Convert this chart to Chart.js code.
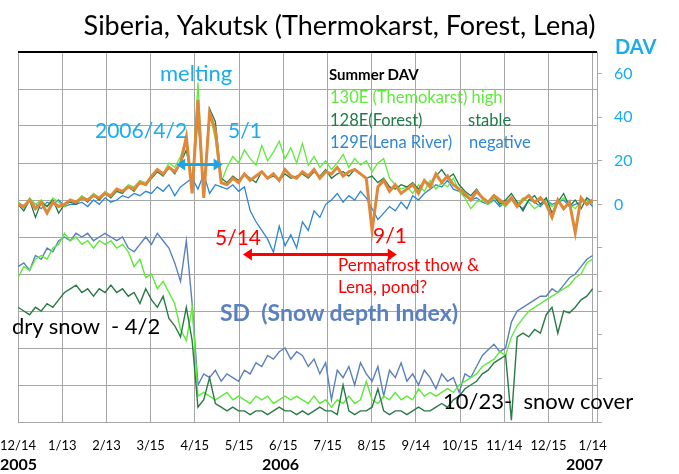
<!DOCTYPE html>
<html><head><meta charset="utf-8">
<script src="https://cdn.jsdelivr.net/npm/chart.js@4.4.1/dist/chart.umd.min.js"></script>
<style>
html,body{margin:0;padding:0;background:#fff;}
#wrap{position:relative;width:679px;height:474px;overflow:hidden;font-family:Lato,"Open Sans",sans-serif;}
canvas{position:absolute;left:0;top:0;}
.t{position:absolute;white-space:nowrap;line-height:1;}
</style></head><body>
<div id="wrap">
<canvas id="c" width="679" height="474"></canvas>
<div class="t" style="left:615px;top:36px;font-size:20px;font-weight:bold;color:#1AACEB;">DAV</div>
<div class="t" style="left:160px;top:62px;font-size:22px;color:#1AACEB;">melting</div>
<div class="t" style="left:95px;top:119px;font-size:21px;color:#1AACEB;">2006/4/2</div>
<div class="t" style="left:228px;top:119px;font-size:21px;color:#1AACEB;">5/1</div>
<div class="t" style="left:329px;top:67px;font-size:15px;font-weight:bold;color:#000;">Summer DAV</div>
<div class="t" style="left:330px;top:89px;font-size:16.5px;color:#5EEB3A;">130E (Themokarst) high</div>
<div class="t" style="left:330px;top:112px;font-size:16.5px;color:#1E7A46;">128E(Forest)</div>
<div class="t" style="left:468px;top:112px;font-size:16.5px;color:#1E7A46;">stable</div>
<div class="t" style="left:330px;top:134px;font-size:16.5px;color:#2E86D6;">129E(Lena River)</div>
<div class="t" style="left:469px;top:134px;font-size:16.5px;color:#2E86D6;">negative</div>
<div class="t" style="left:215px;top:226px;font-size:21px;color:#FF0000;">5/14</div>
<div class="t" style="left:373px;top:224px;font-size:21px;color:#FF0000;">9/1</div>
<div class="t" style="left:338px;top:256px;font-size:17px;color:#FF0000;">Permafrost thow &amp;</div>
<div class="t" style="left:338px;top:278px;font-size:17px;color:#FF0000;">Lena, pond?</div>
<div class="t" style="left:220px;top:301px;font-size:23px;font-weight:bold;color:#5B80C0;">SD&nbsp; (Snow depth Index)</div>
<div class="t" style="left:12px;top:315px;font-size:22px;color:#000;">dry snow&nbsp; - 4/2</div>
<div class="t" style="left:443px;top:390px;font-size:22px;color:#000;">10/23-&nbsp; snow cover</div>
<div class="t" style="left:0px;top:456px;font-size:16px;font-weight:bold;color:#000;">2005</div>
<div class="t" style="left:262px;top:456px;font-size:16px;font-weight:bold;color:#000;">2006</div>
<div class="t" style="left:566px;top:456px;font-size:16px;font-weight:bold;color:#000;">2007</div>
</div>
<script>
// day offsets from 2005-12-14
const days = [0,4,8,12,16,20,24,28,32,36,40,44,48,52,56,60,64,68,72,76,80,84,88,92,96,100,104,108,112,116,120,124,128,132,136,140,144,148,152,156,160,164,168,172,176,180,184,188,192,196,200,204,208,212,216,220,224,228,232,236,240,244,248,252,256,260,264,268,272,276,280,284,288,292,296,300,304,308,312,316,320,324,328,332,336,340,344,348,352,356,360,364,368,372,376,380,384,388,392,396];
const tickLabels = ['12/14','1/13','2/13','3/15','4/15','5/15','6/15','7/15','8/15','9/14','10/15','11/14','12/15','1/14'];
const davTicks = [-100,-80,-60,-40,-20,0,20,40,60];

// DAV (right axis)
const dav130E = [1,-2,3,0,2,-1,3,1,-1,2, 1,4,2,5,3,6,4,7,6,9,8,11,10, 13,16,14,19,17,22, 30,8,56,4,42,30,10, 17,22,19,25,21,18,27,20,24,29,21,26,19, 28,18,22,17,20,16,19,23,17,21,18,20, 15,19,21,12,9,7, 8,5,9,6,11,7,10,8,12,6,3,-2,1, 2,0,3,1,-1,2,0,3,1,-2,0,2,-1,1,3,0,-2,1,2,0];
const dav128E = [0,-3,2,-6,1,-1,2,-4,0,1, 0,3,1,4,2,5,3,6,5,8,6,10,9, 12,15,13,17,14,19, 25,10,40,6,44,38,12, 10,13,11,14,12,10,15,12,13,11,14,12,13, 14,12,15,13,16,12,14,15,13,16,14,12, 13,10,12,8,7,9, 8,10,7,11,9,13,16,12,14,9,6,4,7, 3,1,4,0,2,5,1,-3,2,4,0,3,-4,1,5,-1,2,-2,3,1];
const dav129E = [1,-1,2,0,-2,1,0,2,-1,0, 0,1,-1,2,0,3,1,2,4,3,5,4,6, 5,8,6,9,4,8, 10,12,7,14,5,9,8, 7,9,6,8, -3, -8,-12,-16,-22,-10,-19,-14, -20,-8,-12,-3,-6,0, 2,5,1,4,2,6,3, -2,-7,-4,-1, -3,1,-2,4,2,5, 7,9,8,11,7,6,4,2,3, 1,0,2,-1,1,3,0,-2,2,1,-1,2,0,1,2,-1,0,1,2,-1];
const davMean = [0,-1,2,-2,1,-4,1,-1,0,2, 1,3,2,4,3,5,4,7,6,8,7,10,9, 13,16,14,17,15,19, 31,5,48,3,42,34,10, 9,12,10,14,11,13,15,12,14,11,16,13,12, 15,13,16,12,15,14,17,13,15,16,14,12, -12,8,11,6,9,5, 7,9,5,11,8,14,10,13,9,7,5,2,6, 3,1,4,2,0,3,-1,2,4,1,3,0,-6,2,-2,1,-13,3,0,2];

// SD snow depth index (left axis, unlabeled)
const sd129E = [4.2,4.3,4.1,4.5,4.4,4.7,4.6,4.9,5.0,4.9,5.1,5.0,5.1,4.9,5.0,5.1,5.0,4.9,5.0, 4.7,4.6,4.8,5.0,4.8,5.1,4.9,4.7,4.3,3.8,4.9,3.2,1.0, 1.3,1.2,1.4,1.1,1.3,1.2,1.1,1.4,1.3,1.6,1.5,1.8,1.7, 1.9,2.0,1.7,1.9, 1.8,1.5,1.7,1.3,1.6,0.6,1.4,1.2,1.5,1.0,1.6,1.3,1.1,1.5,0.7,1.4,1.2,1.6,1.1,1.3,1.0,1.4,1.2,0.9,1.3,1.1,1.2,0.8,1.3,1.2, 1.5,1.8,1.95,2.1,1.9,2.0, 2.7, 3.0,3.1,3.2,3.3,3.4, 3.4,3.6,3.5,3.7, 3.9,4.0,4.2,4.4,4.5];
const sd130E = [3.9,4.2,4.1,4.4,4.5,4.4,4.7,4.8,5.1, 4.9,5.0,4.8,4.9,4.7,4.9,4.8,4.9,4.7,4.8, 4.6,4.2,4.4,3.9, 4.0,3.6,3.8,3.5, 3.2,2.5,2.2,3.1,0.7, 0.8,0.7,0.6,0.7,0.8,0.6,0.7,0.6,0.5,0.7,0.6,0.7,0.5,0.6,0.7,0.6,0.7, 0.6,0.5,0.7,0.5,0.6,0.4,0.6,0.5,0.7,0.5,0.6,1.1,0.6,0.5,0.7,0.6,0.8,0.6,0.7,0.6,0.9,0.7,0.8,0.7,0.8,0.9,0.8,1.0,1.1,1.2, 1.3,1.5,1.6,1.7,1.9,1.8, 2.3,2.6,2.8,3.0,3.1,3.2,3.3,3.4,3.5,3.6,3.7,3.9,4.0,4.3,4.4];
const sd128E = [3.1,3.0,2.9,3.1,3.0,3.2,3.1,3.3, 3.5,3.6,3.7,3.5,3.6,3.4,3.6,3.5,3.7,3.5,3.6,3.4,3.5,3.2,3.6,3.3,3.1,3.4,2.8, 2.6,2.3,3.1,2.2,0.4, 0.6,1.2,0.5,0.4,0.3,0.4,0.3,0.3,0.2,0.3,0.3,0.2,0.3,0.4,0.3,0.3,0.2, 0.3,0.2,0.3,0.4,0.3,0.3,0.2,1.0,0.3,0.2,0.3,0.3,0.4,0.9,0.3,0.2,0.3,0.3,0.2,0.3,0.4,0.3,0.3,0.4,0.5,0.4,0.6,0.7,0.9,1.0, 1.1,1.3,1.4,1.6,1.7,1.8, 0.05, 2.3,2.4,2.3,2.5,2.4, 2.9,3.1,2.4,3.0, 2.95,3.1,3.3,3.4,3.6];

// annotation arrows: [startDay, endDay, DAV level]
const meltArrow = [109, 141, 18.3];
const thawArrow = [155, 261, -23];

const pts = arr => arr.map((v,i)=>({x:days[i], y:v}));
const GRID = '#A6A6A6';

function arrow(ctx, x1, x2, y, color){
  const h = 9, w = 6;
  ctx.strokeStyle = color; ctx.fillStyle = color; ctx.lineWidth = 3;
  ctx.beginPath(); ctx.moveTo(x1+h-2, y); ctx.lineTo(x2-h+2, y); ctx.stroke();
  ctx.beginPath(); ctx.moveTo(x1, y); ctx.lineTo(x1+h, y-w); ctx.lineTo(x1+h, y+w); ctx.closePath(); ctx.fill();
  ctx.beginPath(); ctx.moveTo(x2, y); ctx.lineTo(x2-h, y-w); ctx.lineTo(x2-h, y+w); ctx.closePath(); ctx.fill();
}
const decor = {
  id:'decor',
  afterDatasetsDraw(chart){
    const {ctx, chartArea:a, scales} = chart;
    const x = scales.x, y2 = scales.y2;
    ctx.save();
    ctx.strokeStyle = '#000'; ctx.lineWidth = 2;
    ctx.beginPath(); ctx.moveTo(a.left, a.top); ctx.lineTo(a.right, a.top); ctx.stroke();
    arrow(ctx, x.getPixelForValue(meltArrow[0]), x.getPixelForValue(meltArrow[1]), y2.getPixelForValue(meltArrow[2]), '#1AA6E6');
    arrow(ctx, x.getPixelForValue(thawArrow[0]), x.getPixelForValue(thawArrow[1]), y2.getPixelForValue(thawArrow[2]), '#FF0000');
    ctx.restore();
  }
};

const line = (label, data, color, width, axis, order) => ({
  label, data: pts(data), borderColor: color, backgroundColor: color, borderWidth: width,
  pointRadius: 0, tension: 0, yAxisID: axis, order
});

new Chart(document.getElementById('c'), {
  type: 'line',
  data: { datasets: [
    line('DAV mean', davMean, '#E0883A', 3, 'y2', 1),
    line('128E DAV', dav128E, '#1E7A46', 1.3, 'y2', 2),
    line('130E DAV', dav130E, '#5EEB3A', 1.3, 'y2', 3),
    line('129E DAV', dav129E, '#2E86D6', 1.3, 'y2', 4),
    line('128E SD', sd128E, '#2A7A48', 1.4, 'y', 5),
    line('130E SD', sd130E, '#5EEB3A', 1.4, 'y', 6),
    line('129E SD', sd129E, '#5B80BB', 1.4, 'y', 7)
  ]},
  options: {
    responsive: false, animation: false, devicePixelRatio: 1,
    layout: { padding: 0 },
    plugins: {
      legend: { display: false }, tooltip: { enabled: false },
      title: { display: true, text: 'Siberia, Yakutsk (Thermokarst, Forest, Lena)', color: '#000',
        font: { family: 'Lato', size: 27, weight: 'normal' }, padding: { top: 10, bottom: 9.6 } }
    },
    scales: {
      x: { type: 'linear', min: 0, max: 399,
        afterBuildTicks: s => { s.ticks = tickLabels.map((l,i)=>({value: i*396/13})); },
        ticks: { callback: (v,i) => tickLabels[i], autoSkip: false, maxRotation: 0, color: '#000',
          font: { family: 'Lato', size: 13 }, padding: 0 },
        grid: { color: GRID, drawTicks: true, tickLength: 16, tickColor: 'rgba(0,0,0,0)' }, border: { color: GRID },
        afterFit: s => { s.height = 52; } },
      y: { position: 'left', min: 0, max: 10,
        ticks: { display: false, stepSize: 1 },
        grid: { color: GRID, drawTicks: false }, border: { color: GRID },
        afterFit: s => { s.width = 17; } },
      y2: { position: 'right', min: -100, max: 70,
        afterBuildTicks: s => { s.ticks = davTicks.map(v=>({value:v})); },
        ticks: { callback: v => v >= 0 ? String(v) : '', color: '#1AACEB',
          font: { family: 'Lato', size: 16 }, padding: 12 },
        grid: { drawOnChartArea: false, color: GRID, tickLength: 5 }, border: { color: GRID },
        afterFit: s => { s.width = 82; } }
    }
  },
  plugins: [decor]
});
</script>
</body></html>
